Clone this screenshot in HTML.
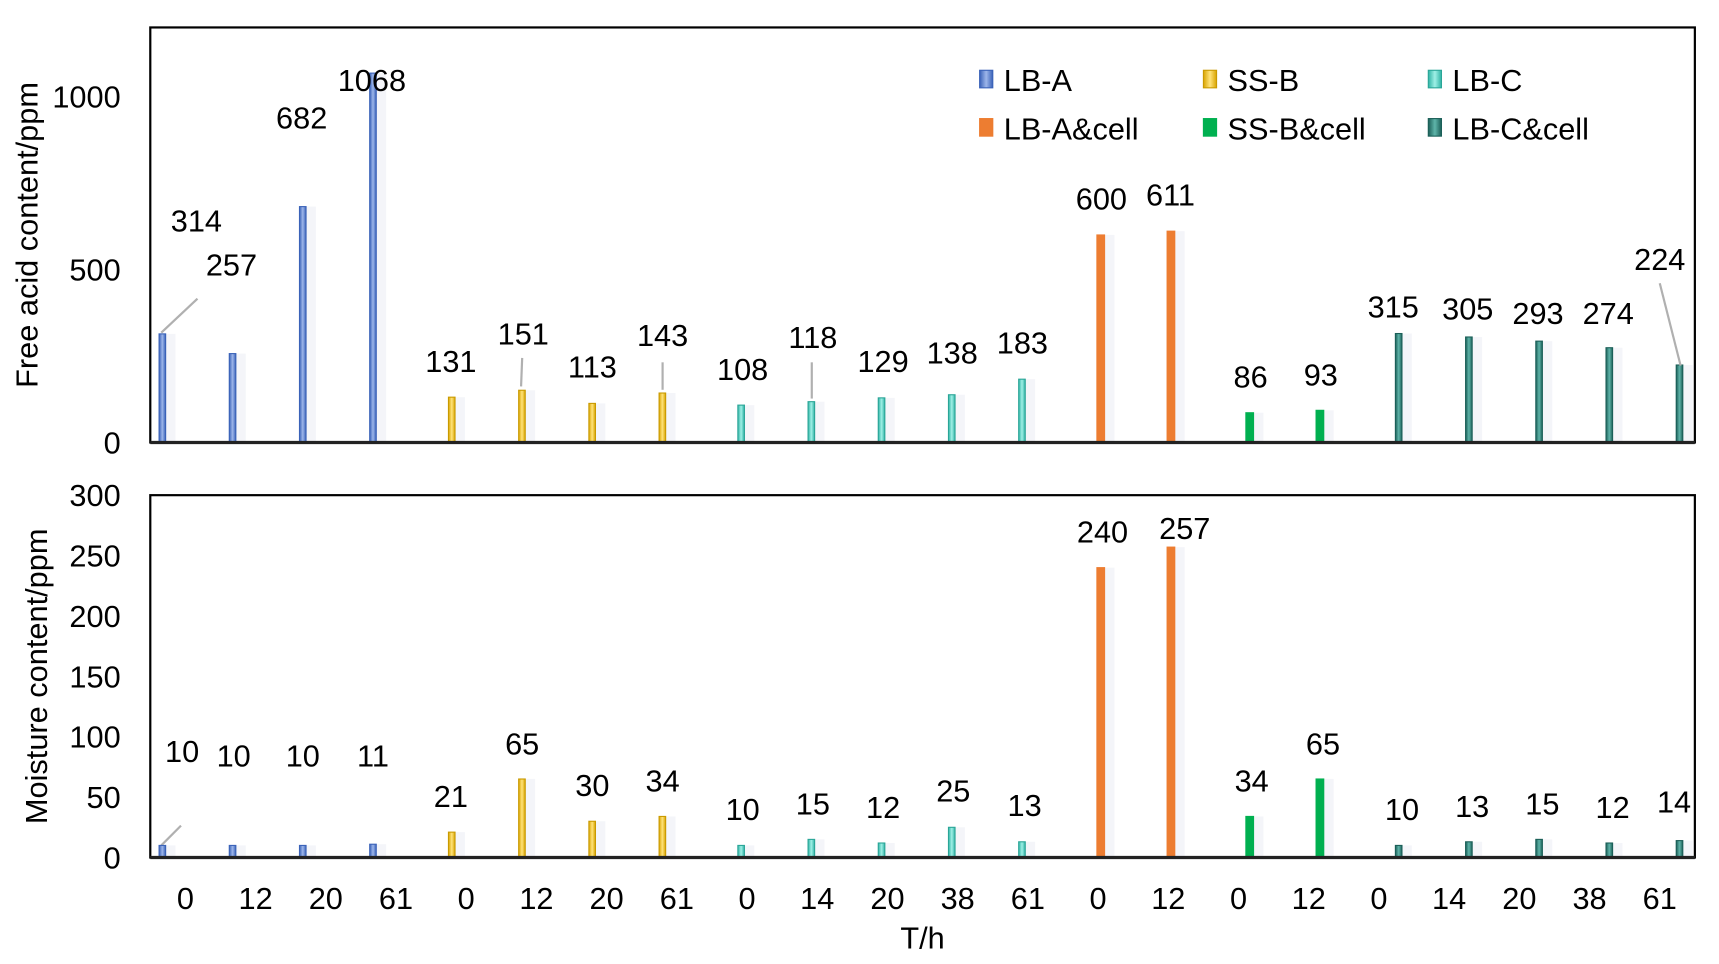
<!DOCTYPE html>
<html><head><meta charset="utf-8"><style>
html,body{margin:0;padding:0;background:#fff;}
svg{display:block;font-family:"Liberation Sans",Arial,sans-serif;}
</style></head><body>
<svg id="chart" width="1719" height="964" viewBox="0 0 1567 878" preserveAspectRatio="none" xmlns="http://www.w3.org/2000/svg">
<defs>
<linearGradient id="gA" x1="0" x2="1"><stop offset="0" stop-color="#3a62b8"/><stop offset="0.5" stop-color="#9db6ea"/><stop offset="1" stop-color="#3a62b8"/></linearGradient>
<linearGradient id="gB" x1="0" x2="1"><stop offset="0" stop-color="#d9a400"/><stop offset="0.5" stop-color="#ffe37a"/><stop offset="1" stop-color="#d9a400"/></linearGradient>
<linearGradient id="gC" x1="0" x2="1"><stop offset="0" stop-color="#2fb3a5"/><stop offset="0.5" stop-color="#9ff0e6"/><stop offset="1" stop-color="#2fb3a5"/></linearGradient>
<linearGradient id="gF" x1="0" x2="1"><stop offset="0" stop-color="#1b5f58"/><stop offset="0.5" stop-color="#5fb5aa"/><stop offset="1" stop-color="#1b5f58"/></linearGradient>
</defs>
<g id="topPanel"></g>
<g id="botPanel"></g>
<text x="24" y="214" transform="rotate(-90 24 214)" text-anchor="middle" font-size="28" dy="10">Free acid content/ppm</text>
<text x="33" y="616" transform="rotate(-90 33 616)" text-anchor="middle" font-size="28" dy="10">Moisture content/ppm</text>
<text x="841" y="864" text-anchor="middle" font-size="28">T/h</text>
<g id="legend"></g>
</svg>
<script>
const xLabels = ["0","12","20","61","0","12","20","61","0","14","20","38","61","0","12","0","12","0","14","20","38","61"];
const seriesNames = ["LB-A","SS-B","LB-C","LB-A&cell","SS-B&cell","LB-C&cell"];
const seriesOfCat = [0,0,0,0,1,1,1,1,2,2,2,2,2,3,3,4,4,5,5,5,5,5];
const acidValues = [314,257,682,1068,131,151,113,143,108,118,129,138,183,600,611,86,93,315,305,293,274,224];
const moistureValues = [10,10,10,11,21,65,30,34,10,15,12,25,13,240,257,34,65,10,13,15,12,14];
const acidTicks = [0,500,1000];
const moistureTicks = [0,50,100,150,200,250,300];
const acidLabelPos = [[179,211],[211,251],[275,117],[339,83],[411,339],[477,314],[540,344],[604,315],[677,346],[741,317],[805,339],[868,331],[932,322],[1004,191],[1067,187],[1140,353],[1204,351],[1270,289],[1338,291],[1402,295],[1466,295],[1513,246]];
const moistLabelPos = [[166,694],[213,698],[276,698],[340,698],[411,735],[476,687],[540,725],[604,721],[677,747],[741,742],[805,745],[869,730],[934,743],[1005,494],[1080,491],[1141,721],[1206,687],[1278,747],[1342,744],[1406,742],[1470,745],[1526,740]];
const fills=["url(#gA)","url(#gB)","url(#gC)","#ed7d31","#00b050","url(#gF)"];
const strokes=["#3a62b8","#c99a00","#2aa597","#ed7d31","#00b050","#1b5f58"];
const NS="http://www.w3.org/2000/svg";
function mk(p,t,a){const e=document.createElementNS(NS,t);for(const k in a)e.setAttribute(k,a[k]);p.appendChild(e);return e;}
const X0=137,X1=1545,CW=(X1-X0)/22;
function xCat(k){return X0+(k+0.5)*CW;}
function xBar(k){return xCat(k)-21+7.8*seriesOfCat[k];}
function panel(g,yTop,yBase,max,ticks,vals,lp,name){
  const y=v=>yBase-(v/max)*(yBase-yTop);
  vals.forEach((v,k)=>{
    const s=seriesOfCat[k],w=(s==3||s==4)?7:6,bx=xBar(k);
    const sh=mk(g,'rect',{x:bx+w/2,y:y(v),width:9,height:yBase-y(v),fill:'#dfe3ee',opacity:0.35});
    
    
    const r=mk(g,'rect',{x:bx-w/2,y:y(v),width:w,height:yBase-y(v),fill:fills[s],stroke:strokes[s],'stroke-width':1});
    
    
    const t=mk(g,'text',{x:lp[k][0],y:lp[k][1],'text-anchor':'middle','font-size':28});
    t.textContent=v;
    
    
  });
  ticks.forEach(v=>{
    const t=mk(g,'text',{x:110,y:y(v)+10,'text-anchor':'end','font-size':28});
    t.textContent=v;
    
    
  });
  const f=mk(g,'rect',{x:X0,y:yTop,width:X1-X0,height:yBase-yTop,fill:'none',stroke:'#000','stroke-width':2});
  
  
  const b=mk(g,'line',{x1:X0,x2:X1,y1:yBase,y2:yBase,stroke:'#222','stroke-width':3});
  
  
}
const topG=document.getElementById('topPanel'),botG=document.getElementById('botPanel');
panel(topG,25,403,1200,acidTicks,acidValues,acidLabelPos,'acid');
panel(botG,451,781,300,moistureTicks,moistureValues,moistLabelPos,'moisture');
[[[180,272],[147,303]],[[476,326],[475,352]],[[604,330],[604,355]],[[740,330],[740,363]],[[1513,258],[1532,333]],[[165,752],[147,770]]].forEach(l=>{
  const e=mk(topG,'line',{x1:l[0][0],y1:l[0][1],x2:l[1][0],y2:l[1][1],stroke:'#b0b0b0','stroke-width':2});
  
  
});
xLabels.forEach((s,k)=>{
  const t=mk(botG,'text',{x:xCat(k),y:828,'text-anchor':'middle','font-size':28});
  t.textContent=s;
  
  
});
const lg=document.getElementById('legend');
seriesNames.forEach((n,i)=>{
  const cx=[893,1097,1302][i%3],cy=[73,117][Math.floor(i/3)];
  const r=mk(lg,'rect',{x:cx,y:cy-9,width:12,height:16,fill:fills[i],stroke:strokes[i],'stroke-width':1});
  
  
  const t=mk(lg,'text',{x:cx+22,y:cy+10,'font-size':28});
  t.textContent=n;
  
  
});
</script>
</body></html>
